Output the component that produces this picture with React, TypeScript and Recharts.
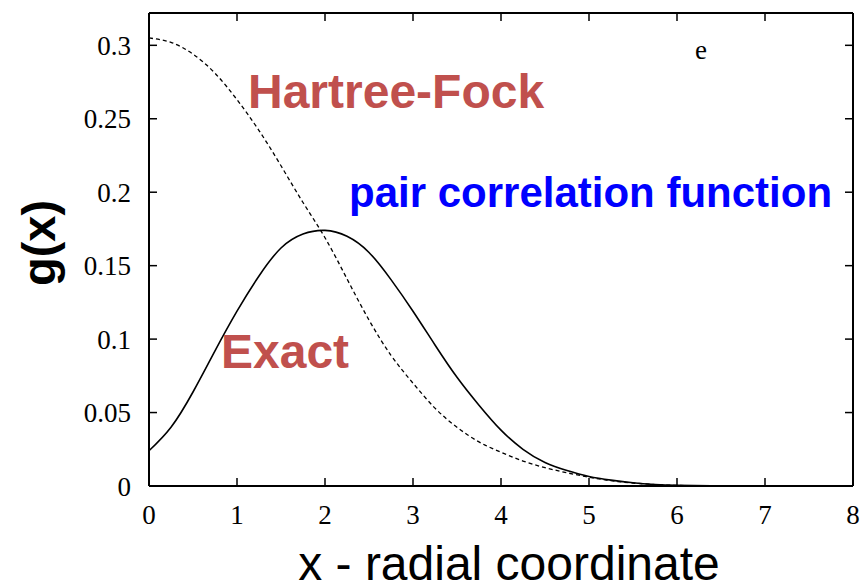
import { LineChart, Line, XAxis, YAxis } from 'recharts';

// radial coordinate x, sampled every 0.25
const xs = [
    0, 0.25, 0.5, 0.75, 1, 1.25, 1.5, 1.75, 2, 2.25, 2.5, 2.75, 3, 3.25, 3.5, 3.75,
    4, 4.25, 4.5, 4.75, 5, 5.25, 5.5, 5.75, 6, 6.5, 7, 7.5, 8,
];

const exact = [
    0.024, 0.04, 0.064, 0.092, 0.119, 0.143, 0.162, 0.1715, 0.174, 0.17, 0.159, 0.1405, 0.119, 0.096, 0.074, 0.055,
    0.038, 0.025, 0.016, 0.0105, 0.0065, 0.004, 0.0022, 0.001, 0.0004, 0.0001, 0, 0, 0,
];

const hartreeFock = [
    0.305, 0.302, 0.294, 0.281, 0.263, 0.242, 0.218, 0.193, 0.169, 0.141, 0.113, 0.089, 0.07, 0.053, 0.04, 0.03,
    0.023, 0.017, 0.0125, 0.009, 0.006, 0.0036, 0.002, 0.001, 0.0004, 0.0001, 0, 0, 0,
];

const xTicks = [0, 1, 2, 3, 4, 5, 6, 7, 8];
const yTicks = [0, 0.05, 0.1, 0.15, 0.2, 0.25, 0.3];

const data = xs.map((x, i) => ({ x, exact: exact[i], hf: hartreeFock[i] }));

const tickFont = { fontFamily: '"Liberation Serif", serif', fontSize: 27, fill: '#000' };
const sans = '"Liberation Sans", Arial, sans-serif';

export default function App() {
    return (
        <div style={{ position: 'absolute', left: 0, top: 0, width: 864, height: 586, background: '#fff' }}>
            <LineChart width={864} height={586} data={data} margin={{ top: 0, right: 0, bottom: 0, left: 0 }}>
                <XAxis
                    dataKey="x"
                    type="number"
                    domain={[0, 8]}
                    ticks={xTicks}
                    height={100}
                    tickSize={-8}
                    tickMargin={27}
                    tick={tickFont}
                    stroke="#000"
                    strokeWidth={2}
                    tickLine={{ strokeWidth: 1.5 }}
                />
                <XAxis
                    xAxisId="top"
                    orientation="top"
                    dataKey="x"
                    type="number"
                    domain={[0, 8]}
                    ticks={xTicks}
                    height={13}
                    tickSize={-8}
                    tickFormatter={() => ''}
                    stroke="#000"
                    strokeWidth={2}
                    tickLine={{ strokeWidth: 1.5 }}
                />
                <YAxis
                    type="number"
                    domain={[0, 0.322]}
                    ticks={yTicks}
                    width={149}
                    tickSize={-8}
                    tickMargin={26}
                    tick={tickFont}
                    stroke="#000"
                    strokeWidth={2}
                    tickLine={{ strokeWidth: 1.5 }}
                    allowDataOverflow
                />
                <YAxis
                    yAxisId="right"
                    orientation="right"
                    type="number"
                    domain={[0, 0.322]}
                    ticks={yTicks}
                    width={11}
                    tickSize={-8}
                    tickFormatter={() => ''}
                    stroke="#000"
                    strokeWidth={2}
                    tickLine={{ strokeWidth: 1.5 }}
                    allowDataOverflow
                />
                <Line
                    type="natural"
                    dataKey="hf"
                    stroke="#000"
                    strokeWidth={1.3}
                    strokeDasharray="4 3"
                    dot={false}
                    isAnimationActive={false}
                />
                <Line
                    type="natural"
                    dataKey="exact"
                    stroke="#000"
                    strokeWidth={1.6}
                    dot={false}
                    isAnimationActive={false}
                />
            </LineChart>
            <svg width={864} height={586} style={{ position: 'absolute', left: 0, top: 0, pointerEvents: 'none' }}>
                <text x={248} y={108} fontFamily={sans} fontWeight="bold" fontSize={48} fill="#c0504d">
                    Hartree-Fock
                </text>
                <text x={221} y={368} fontFamily={sans} fontWeight="bold" fontSize={48} fill="#c0504d">
                    Exact
                </text>
                <text x={349} y={207} fontFamily={sans} fontWeight="bold" fontSize={42} fill="#0000ff">
                    pair correlation function
                </text>
                <text x={695} y={59} fontFamily='"Liberation Serif", serif' fontSize={27} fill="#000">
                    e
                </text>
                <text
                    x={0}
                    y={0}
                    transform="translate(55 243) rotate(-90)"
                    textAnchor="middle"
                    fontFamily={sans}
                    fontWeight="bold"
                    fontSize={47}
                    fill="#000"
                >
                    g(x)
                </text>
                <text x={509} y={580} textAnchor="middle" fontFamily={sans} fontSize={48} fill="#000">
                    x - radial coordinate
                </text>
            </svg>
        </div>
    );
}
